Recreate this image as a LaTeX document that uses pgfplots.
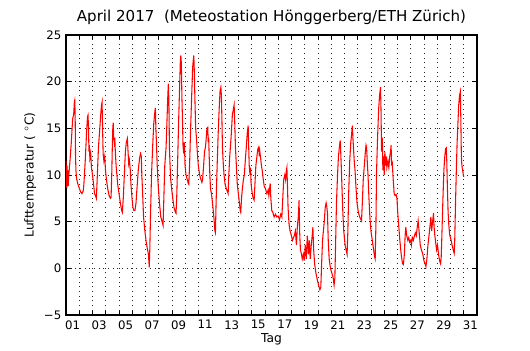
\documentclass[border=0pt]{standalone}
\usepackage{pgfplots}
\pgfplotsset{compat=1.18}
\usepackage{fontspec}
\setmainfont{DejaVu Sans}
\usetikzlibrary{calc}
\begin{document}
\begin{tikzpicture}
\begin{axis}[name=ax,
  scale only axis, width=308.25pt, height=210pt,
  xmin=1, xmax=32, ymin=-5, ymax=25,
  xtick={1.5,3.5,5.5,7.5,9.5,11.5,13.5,15.5,17.5,19.5,21.5,23.5,25.5,27.5,29.5,31.5},
  xticklabels={01,03,05,07,09,11,13,15,17,19,21,23,25,27,29,31},
  major x tick style={draw=none},
  minor xtick={2,3,...,31},
  xminorgrids=true, xmajorgrids=false, ymajorgrids=true,
  ytick={-5,0,5,10,15,20,25},
  yticklabels={−5,0,5,10,15,20,25},
  tick align=inside, tick pos=both,
  major tick length=4pt, minor tick length=3pt,
  tick style={black, line width=0.5pt},
  grid style={black!85, line width=0.5pt, dash pattern=on 0.5pt off 3pt},
  minor grid style={black!85, line width=0.5pt, dash pattern=on 0.5pt off 3pt},
  axis line style={black, line width=0.8pt},
  tick label style={font=\fontsize{8.8}{10}\selectfont},
  xticklabel style={yshift=-0.5pt},
  label style={font=\fontsize{9.2}{11}\selectfont},
  xlabel={Tag}, ylabel={Lufttemperatur ( $^\circ$C)},
  xlabel style={yshift=4pt},
  ylabel style={yshift=-1pt},
  title={April 2017\ \ (Meteostation Hönggerberg/ETH Zürich)},
  title style={font=\fontsize{11.3}{13}\selectfont, yshift=-2pt},
]
\addplot[red, line width=0.8pt] coordinates {
(1.00,11.5)(1.02,9.0)(1.04,10.8)(1.06,8.6)(1.08,11.0)(1.10,9.2)(1.13,10.5)(1.17,8.8)(1.20,9.8)
(1.30,11.5)(1.40,13.5)(1.50,16.0)(1.58,16.5)(1.63,17.8)(1.66,18.0)(1.69,16.5)(1.72,12.0)(1.75,10.5)(1.80,9.6)(1.90,9.0)(2.00,8.6)(2.10,8.2)(2.20,8.0)(2.30,8.3)
(2.35,9.0)(2.45,11.5)(2.55,14.5)(2.62,16.2)(2.66,16.4)(2.70,15.0)(2.73,12.5)(2.76,13.2)(2.80,11.8)(2.86,12.3)(2.92,10.8)(3.00,10.0)(3.08,9.0)(3.15,8.0)(3.22,7.8)(3.29,7.5)
(3.35,9.5)(3.45,13.0)(3.55,15.0)(3.62,16.5)(3.68,17.5)(3.72,17.8)(3.76,15.0)(3.80,12.3)(3.86,11.5)(3.92,12.0)(3.98,10.5)(4.05,9.5)(4.15,8.5)(4.25,7.8)(4.35,7.5)(4.40,7.6)
(4.45,10.0)(4.50,13.5)(4.53,15.0)(4.56,15.6)(4.60,14.0)(4.64,13.5)(4.68,14.0)(4.72,12.5)(4.78,11.0)(4.84,10.0)(4.90,9.0)(5.00,8.0)(5.10,7.0)(5.20,6.2)(5.25,6.0)
(5.32,7.5)(5.40,10.0)(5.48,12.5)(5.55,13.5)(5.63,13.9)(5.68,12.5)(5.73,11.2)(5.78,11.6)(5.85,10.5)(5.90,9.0)(5.98,7.5)(6.05,6.5)(6.12,6.2)(6.20,6.2)
(6.28,7.0)(6.35,8.5)(6.45,10.5)(6.55,11.8)(6.62,12.3)(6.68,12.0)(6.72,10.0)(6.78,8.0)(6.85,5.5)(6.95,4.0)(7.05,2.8)(7.15,2.0)(7.22,1.5)(7.28,0.1)(7.32,2.0)
(7.38,6.0)(7.45,10.0)(7.55,13.5)(7.62,15.5)(7.68,16.5)(7.74,17.2)(7.78,15.0)(7.82,13.5)(7.88,11.0)(7.95,9.0)(8.05,7.0)(8.15,5.5)(8.25,5.0)(8.32,4.6)
(8.38,7.5)(8.45,11.0)(8.55,13.0)(8.62,16.0)(8.68,18.5)(8.72,19.8)(8.76,18.0)(8.80,13.0)(8.85,11.0)(8.90,9.5)(8.97,8.5)(9.05,7.5)(9.15,6.5)(9.25,6.0)(9.30,5.9)
(9.36,8.0)(9.43,12.0)(9.50,16.0)(9.57,19.5)(9.62,22.0)(9.66,22.8)(9.70,22.0)(9.74,18.5)(9.78,16.2)(9.83,13.0)(9.88,12.3)(9.93,13.5)(9.98,11.0)(10.05,10.0)(10.15,9.5)(10.22,9.1)(10.26,9.0)
(10.32,11.0)(10.40,15.0)(10.48,18.5)(10.55,21.5)(10.60,22.3)(10.64,22.8)(10.68,21.0)(10.72,18.3)(10.78,15.0)(10.84,14.0)(10.90,12.5)(10.98,11.0)(11.08,10.0)(11.18,9.5)(11.25,9.2)(11.30,9.5)
(11.38,11.0)(11.45,12.5)(11.52,13.0)(11.58,14.0)(11.63,15.0)(11.69,15.1)(11.73,13.5)(11.76,14.0)(11.80,12.0)(11.85,10.0)(11.90,8.5)(11.97,8.0)(12.05,7.0)(12.12,6.0)(12.18,5.0)(12.23,4.0)(12.27,3.8)
(12.32,7.0)(12.40,11.0)(12.48,14.5)(12.55,17.0)(12.62,19.0)(12.68,19.4)(12.72,18.5)(12.76,16.0)(12.80,13.0)(12.85,11.5)(12.92,10.0)(13.00,9.0)(13.10,8.5)(13.18,8.2)(13.23,8.0)
(13.28,10.0)(13.35,12.0)(13.45,14.0)(13.55,16.5)(13.62,17.0)(13.68,17.5)(13.72,16.0)(13.78,13.0)(13.85,11.0)(13.92,9.0)(14.00,8.0)(14.08,7.0)(14.14,6.2)(14.18,6.0)
(14.24,7.5)(14.30,8.5)(14.38,9.5)(14.45,10.0)(14.52,11.5)(14.60,13.0)(14.67,14.5)(14.74,15.3)(14.78,13.0)(14.82,11.0)(14.88,10.0)(14.92,10.8)(14.96,9.0)(15.05,8.0)(15.12,7.5)(15.19,7.3)
(15.25,9.0)(15.32,11.0)(15.40,12.0)(15.47,12.8)(15.54,13.0)(15.58,12.0)(15.62,12.5)(15.68,11.8)(15.74,11.0)(15.80,10.5)(15.88,9.5)(15.95,8.8)(16.05,8.5)(16.15,8.0)(16.25,8.4)
(16.30,7.8)(16.35,8.4)(16.40,9.1)(16.45,7.5)(16.52,6.2)(16.60,6.0)(16.70,5.5)(16.80,5.8)(16.90,5.5)(17.00,5.6)(17.10,5.2)(17.20,5.8)(17.28,5.5)
(17.35,7.5)(17.42,9.5)(17.50,10.0)(17.56,9.5)(17.62,10.5)(17.66,10.8)(17.70,9.0)(17.75,6.5)(17.82,4.8)(17.90,4.0)(18.00,3.5)(18.08,3.0)(18.16,3.3)
(18.22,3.5)(18.30,4.0)(18.38,2.5)(18.45,4.5)(18.52,5.5)(18.58,7.3)(18.62,4.0)(18.68,2.0)(18.75,1.6)(18.82,1.0)(18.90,1.5)(18.96,0.8)(19.05,2.5)(19.12,1.0)(19.20,3.5)(19.28,1.5)(19.35,3.0)(19.42,1.0)(19.50,2.5)(19.57,3.5)(19.62,4.4)(19.68,2.0)(19.75,0.5)(19.85,-0.5)(19.95,-1.2)(20.05,-1.8)(20.15,-2.3)(20.22,-2.0)
(20.28,0.5)(20.35,3.0)(20.42,4.1)(20.48,5.0)(20.55,6.5)(20.62,7.0)(20.68,6.5)(20.72,5.9)(20.78,3.0)(20.85,1.0)(20.95,0.0)(21.05,-0.5)(21.15,-1.0)(21.22,-1.8)(21.28,-1.0)
(21.34,3.0)(21.40,7.0)(21.48,10.0)(21.55,12.0)(21.62,13.0)(21.68,13.7)(21.72,12.5)(21.76,11.0)(21.82,8.5)(21.88,6.0)(21.95,4.0)(22.05,2.5)(22.15,1.8)(22.20,1.5)
(22.26,4.0)(22.32,8.0)(22.40,11.5)(22.48,13.5)(22.55,14.5)(22.60,15.3)(22.64,14.0)(22.68,13.0)(22.74,11.5)(22.80,10.5)(22.88,8.5)(22.95,7.0)(23.05,6.0)(23.15,5.5)(23.22,5.3)(23.29,5.1)
(23.35,7.0)(23.42,9.5)(23.50,11.0)(23.58,12.5)(23.63,13.2)(23.67,13.0)(23.72,11.5)(23.78,10.0)(23.85,7.5)(23.92,5.5)(24.00,4.0)(24.10,3.0)(24.20,2.0)(24.28,1.2)(24.32,1.0)
(24.38,5.0)(24.42,10.2)(24.50,14.0)(24.58,17.0)(24.65,18.5)(24.72,19.4)(24.76,17.0)(24.80,12.5)(24.86,14.0)(24.90,10.5)(24.95,12.0)(25.00,10.0)(25.05,12.5)(25.10,11.0)(25.15,12.0)(25.20,10.8)(25.28,11.5)(25.35,10.8)(25.42,12.0)(25.48,12.5)(25.52,13.2)(25.56,11.0)(25.60,11.5)(25.68,9.5)(25.75,8.0)(25.82,7.8)(25.90,7.9)(25.96,7.5)
(26.02,6.0)(26.10,4.5)(26.18,3.0)(26.28,1.5)(26.38,0.5)(26.45,0.4)(26.52,1.5)(26.58,3.5)(26.63,4.4)(26.70,3.5)(26.78,3.0)(26.85,3.3)(26.92,2.8)(27.00,3.0)(27.05,2.5)(27.12,3.3)(27.20,3.0)(27.28,3.5)(27.35,3.8)(27.42,3.5)(27.50,4.5)(27.56,5.1)(27.60,4.5)(27.66,3.5)(27.72,2.5)(27.80,2.0)(27.90,1.6)(28.00,0.8)(28.08,0.5)(28.15,0.2)
(28.22,1.0)(28.30,2.5)(28.38,3.5)(28.45,4.5)(28.52,5.5)(28.58,4.0)(28.65,5.0)(28.72,5.9)(28.76,4.5)(28.82,3.5)(28.88,2.8)(28.95,2.0)(29.02,2.5)(29.10,1.5)(29.18,0.8)(29.25,0.5)(29.30,1.2)
(29.35,3.5)(29.42,7.0)(29.50,10.5)(29.57,12.0)(29.63,12.8)(29.68,12.9)(29.72,11.5)(29.76,9.0)(29.82,6.0)(29.88,4.5)(29.95,3.5)(30.05,3.0)(30.12,2.5)(30.20,2.0)(30.28,1.6)(30.32,3.0)
(30.38,7.0)(30.44,10.5)(30.50,13.5)(30.56,15.5)(30.62,17.5)(30.68,18.5)(30.74,18.9)(30.78,16.0)(30.82,12.0)(30.86,11.0)(30.92,10.5)(30.97,10.0)(31.00,9.8)
};
\end{axis}
\pgfresetboundingbox
\path ($(ax.south west)+(-49.5pt,-26.25pt)$) rectangle ($(ax.north east)+(39.75pt,26.25pt)$);
\end{tikzpicture}
\end{document}
